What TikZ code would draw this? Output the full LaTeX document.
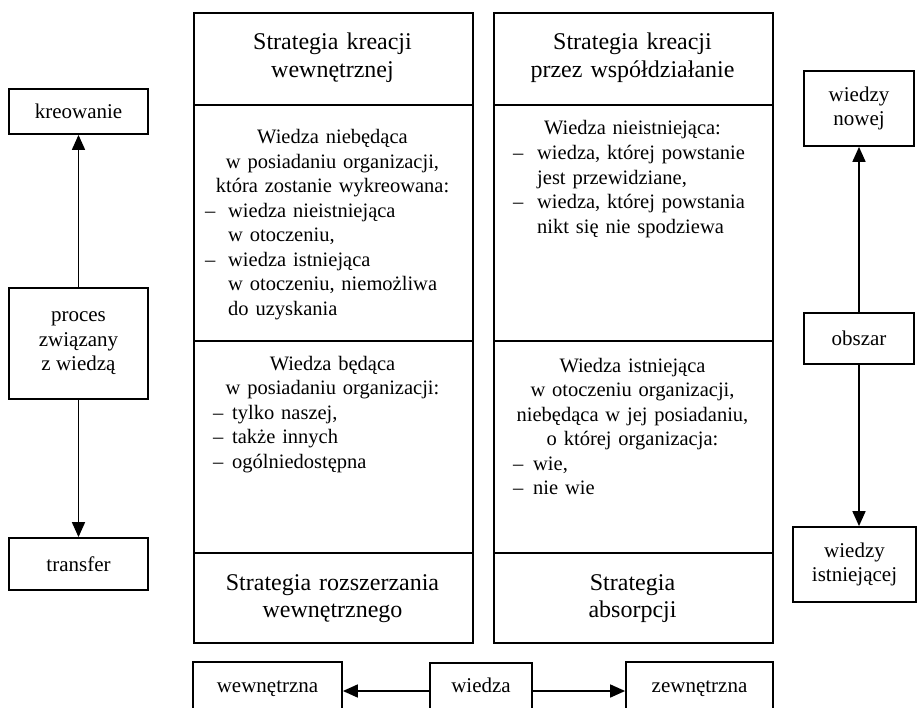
\documentclass[tikz,border=0pt]{standalone}
\usepackage{fontspec}
\setmainfont{Liberation Serif}
\usetikzlibrary{arrows.meta}
\newcommand\fbody{\fontsize{20.5}{24.5}\selectfont}
\newcommand\fhead{\fontsize{24}{27.5}\selectfont}
\newcommand\fsm{\fontsize{21}{24.5}\selectfont}
\newcommand\dsh[1]{\makebox[#1][l]{–}}
\begin{document}
\begin{tikzpicture}[x=1pt,y=-1pt,
  sec/.style={draw, line width=1.8pt, minimum width=279pt, inner sep=0pt, anchor=north west},
  box/.style={draw, line width=1.8pt, inner sep=0pt, align=center, font=\fsm},
  ctext/.style={font=\fbody, align=center, text width=270pt, inner sep=0pt, anchor=base},
  htext/.style={font=\fhead, align=center, text width=275pt, inner sep=0pt, anchor=base},
  ltext/.style={font=\fbody, align=left, text width=255pt, inner sep=0pt, anchor=base west},
  arr/.style={-{Triangle[length=15pt,width=13pt]}, line width=1.7pt}]
\clip (0,0) rectangle (917,708);
% left column of strategy box
\node[sec, minimum height=92pt]  (LA) at (193,12) {};
\node[sec, minimum height=236pt] (LB) at (193,104) {};
\node[sec, minimum height=212pt] (LC) at (193,340) {};
\node[sec, minimum height=90pt]  (LD) at (193,552) {};
% right column
\node[sec, minimum height=92pt]  (RA) at (493,12) {};
\node[sec, minimum height=236pt] (RB) at (493,104) {};
\node[sec, minimum height=212pt] (RC) at (493,340) {};
\node[sec, minimum height=90pt]  (RD) at (493,552) {};
% texts left
\node[htext] (tLA) at (332.5,50) {Strategia kreacji\\wewnętrznej};
\node[ctext] (tLB) at (332.5,144) {Wiedza niebędąca\\w posiadaniu organizacji,\\która zostanie wykreowana:};
\node[ltext] (lLB) at (205,217.5) {\dsh{23pt}wiedza nieistniejąca\\\hspace*{23pt}w otoczeniu,\\\dsh{23pt}wiedza istniejąca\\\hspace*{23pt}w otoczeniu, niemożliwa\\\hspace*{23pt}do uzyskania};
\node[ctext] (tLC) at (332.5,370) {Wiedza będąca\\w posiadaniu organizacji:};
\node[ltext] (lLC) at (213,419) {\dsh{19pt}tylko naszej,\\\dsh{19pt}także innych\\\dsh{19pt}ogólniedostępna};
\node[htext] (tLD) at (332.5,590) {Strategia rozszerzania\\wewnętrznego};
% texts right
\node[htext] (tRA) at (632.5,50) {Strategia kreacji\\przez współdziałanie};
\node[ctext] (tRB) at (632.5,135) {Wiedza nieistniejąca:};
\node[ltext] (lRB) at (513,160) {\dsh{24pt}wiedza, której powstanie\\\hspace*{24pt}jest przewidziane,\\\dsh{24pt}wiedza, której powstania\\\hspace*{24pt}nikt się nie spodziewa};
\node[ctext] (tRC) at (632.5,372) {Wiedza istniejąca\\w otoczeniu organizacji,\\niebędąca w jej posiadaniu,\\o której organizacja:};
\node[ltext] (lRC) at (513,470) {\dsh{20pt}wie,\\\dsh{20pt}nie wie};
\node[htext] (tRD) at (632.5,590) {Strategia\\absorpcji};
% left side boxes
\node[box, minimum width=139pt, minimum height=45pt] (kre) at (78.5,111.5) {kreowanie};
\node[box, minimum width=139pt, minimum height=111pt] (proc) at (78.5,343.5) {proces\\związany\\z wiedzą};
\node[box, minimum width=139pt, minimum height=52pt] (tra) at (78.5,564) {transfer};
% right side boxes
\node[box, minimum width=110pt, minimum height=75pt] (now) at (859,108.5) {wiedzy\\nowej};
\node[box, minimum width=110pt, minimum height=51pt] (obs) at (859,338.5) {obszar};
\node[box, minimum width=123pt, minimum height=75pt] (ist) at (854.5,564.5) {wiedzy\\istniejącej};
% bottom boxes
\node[box, minimum width=149pt, minimum height=58pt, text height=15pt, text depth=13pt] (wew) at (267.5,691) {wewnętrzna};
\node[box, minimum width=102pt, minimum height=56pt, text height=15pt, text depth=13pt] (wie) at (481,691) {wiedza};
\node[box, minimum width=147pt, minimum height=58pt, text height=15pt, text depth=13pt] (zew) at (699.5,691) {zewnętrzna};
% arrows
\draw[arr] (proc.north) -- (kre.south);
\draw[arr] (proc.south) -- (tra.north);
\draw[arr] (obs.north) -- (now.south);
\draw[arr] (obs.south) -- (obs.south |- ist.north);
\draw[arr] (wie.west) -- (wew.east);
\draw[arr] (wie.east) -- (zew.west);
\end{tikzpicture}
\end{document}
